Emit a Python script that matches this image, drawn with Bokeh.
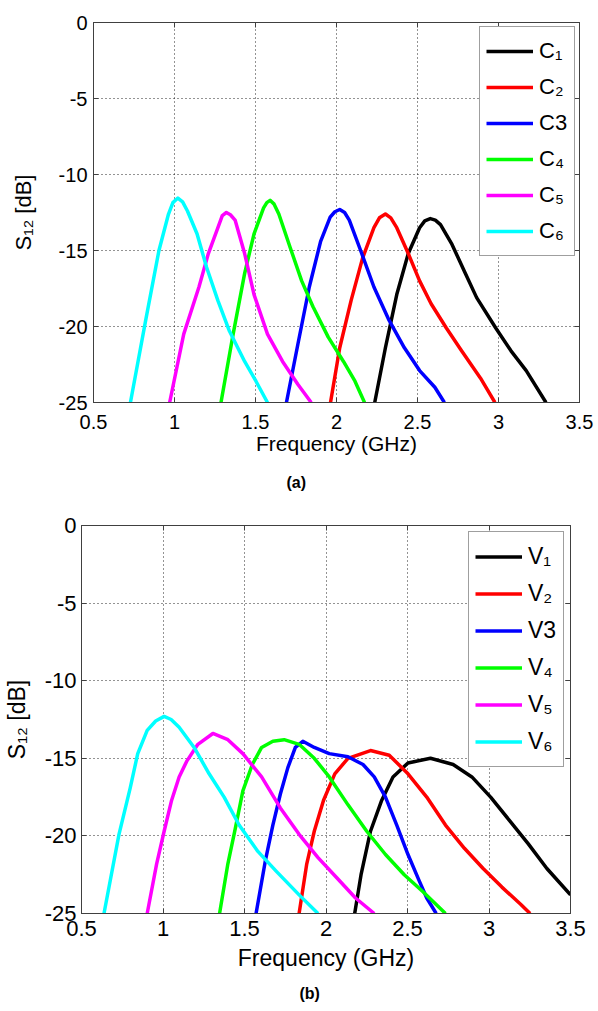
from bokeh.plotting import figure
from bokeh.models import Range1d, LinearAxis, Legend, LegendItem, Title
from bokeh.embed import file_html
from bokeh.resources import INLINE
from bokeh.core.properties import value

# ---------------- data ----------------
FREQ_TICKS = [0.5, 1.0, 1.5, 2.0, 2.5, 3.0, 3.5]
FREQ_TICK_LABELS = ["0.5", "1", "1.5", "2", "2.5", "3", "3.5"]
S12_TICKS = [-25, -20, -15, -10, -5, 0]
S12_TICK_LABELS = ["-25", "-20", "-15", "-10", "-5", "0"]
COLORS = ["#000000", "#ff0000", "#0000ff", "#00ff00", "#ff00ff", "#00ffff"]

# panel (a)
C_labels = ["C\u2081", "C\u2082", "C3", "C\u2084", "C\u2085", "C\u2086"]
C1_f = [2.236, 2.302, 2.372, 2.443, 2.513, 2.545, 2.579, 2.61, 2.642, 2.713, 2.795, 2.865, 2.983, 3.077, 3.171, 3.293]
C1_s = [-25, -21.4, -17.9, -15.2, -13.5, -13.05, -12.9, -13.0, -13.3, -14.6, -16.5, -18.1, -20.1, -21.6, -22.9, -25]
C2_f = [1.963, 2.02, 2.09, 2.161, 2.231, 2.265, 2.302, 2.335, 2.372, 2.443, 2.513, 2.584, 2.678, 2.772, 2.889, 2.978]
C2_s = [-25, -21.4, -18.3, -15.5, -13.5, -12.85, -12.6, -12.85, -13.5, -15.2, -17.0, -18.5, -20.1, -21.6, -23.4, -25]
C3_f = [1.691, 1.761, 1.832, 1.902, 1.961, 1.99, 2.02, 2.05, 2.079, 2.149, 2.231, 2.325, 2.419, 2.513, 2.607, 2.666]
C3_s = [-25, -21.2, -17.4, -14.4, -12.8, -12.45, -12.3, -12.5, -13.0, -15.0, -17.4, -19.6, -21.4, -22.9, -24.0, -25]
C4_f = [1.287, 1.362, 1.433, 1.491, 1.55, 1.57, 1.59, 1.615, 1.644, 1.714, 1.785, 1.855, 1.949, 2.043, 2.114, 2.173]
C4_s = [-25, -20.5, -16.5, -13.9, -12.2, -11.85, -11.7, -11.95, -12.6, -14.8, -17.0, -18.7, -20.7, -22.3, -23.6, -25]
C5_f = [0.97, 1.057, 1.151, 1.209, 1.268, 1.295, 1.32, 1.345, 1.374, 1.433, 1.491, 1.574, 1.667, 1.761, 1.844]
C5_s = [-25, -20.5, -17.4, -15.2, -13.5, -12.7, -12.5, -12.65, -13.0, -15.2, -17.9, -20.5, -22.3, -23.8, -25]
C6_f = [0.728, 0.822, 0.904, 0.963, 0.99, 1.021, 1.05, 1.08, 1.139, 1.198, 1.268, 1.339, 1.433, 1.503, 1.574]
C6_s = [-25, -19.6, -15.0, -12.6, -11.85, -11.55, -11.8, -12.4, -13.9, -16.1, -18.3, -20.3, -22.3, -23.6, -25]

# panel (b)
V_labels = ["V\u2081", "V\u2082", "V3", "V\u2084", "V\u2085", "V\u2086"]
V1_f = [2.176, 2.215, 2.273, 2.342, 2.411, 2.503, 2.641, 2.78, 2.895, 3.01, 3.125, 3.24, 3.355, 3.5]
V1_s = [-25, -22.5, -19.7, -17.7, -16.2, -15.3, -15.0, -15.4, -16.2, -17.5, -19.0, -20.5, -22.1, -23.8]
V2_f = [1.835, 1.882, 1.928, 1.985, 2.054, 2.135, 2.273, 2.388, 2.503, 2.618, 2.733, 2.849, 2.964, 3.079, 3.194, 3.252]
V2_s = [-25, -21.8, -19.7, -17.7, -16.0, -15.0, -14.5, -14.8, -16.0, -17.5, -19.3, -20.8, -22.1, -23.3, -24.4, -25]
V3_f = [1.571, 1.628, 1.674, 1.72, 1.766, 1.812, 1.858, 1.928, 2.02, 2.135, 2.227, 2.296, 2.365, 2.434, 2.503, 2.572, 2.618, 2.676]
V3_s = [-25, -21.6, -19.3, -17.3, -15.6, -14.3, -13.9, -14.3, -14.7, -14.9, -15.4, -16.2, -17.5, -19.3, -21.2, -22.9, -24.0, -25]
V4_f = [1.347, 1.398, 1.444, 1.49, 1.548, 1.605, 1.674, 1.743, 1.835, 1.928, 2.02, 2.135, 2.25, 2.365, 2.48, 2.595, 2.733]
V4_s = [-25, -21.8, -19.5, -17.1, -15.4, -14.3, -13.9, -13.8, -14.1, -15.0, -16.2, -18.0, -19.7, -21.2, -22.5, -23.6, -25]
V5_f = [0.903, 0.961, 1.007, 1.053, 1.099, 1.145, 1.214, 1.306, 1.398, 1.49, 1.605, 1.72, 1.835, 1.951, 2.066, 2.181, 2.296]
V5_s = [-25, -21.8, -19.7, -17.7, -16.2, -15.2, -14.1, -13.4, -13.8, -14.7, -16.2, -18.2, -19.9, -21.4, -22.7, -24.0, -25]
V6_f = [0.638, 0.73, 0.799, 0.845, 0.903, 0.955, 1.007, 1.05, 1.099, 1.191, 1.283, 1.375, 1.467, 1.582, 1.697, 1.835, 1.951]
V6_s = [-25, -19.9, -16.9, -14.7, -13.2, -12.6, -12.3, -12.5, -13.0, -14.3, -16.0, -17.5, -19.3, -21.0, -22.3, -23.8, -25]

FONT = "Liberation Sans"
EDGE = "#404040"
PAGE_W = 598


def make_panel(fs, ss, labels, caption, g):
    W, H = PAGE_W, g["H"]
    bl, bt, fw, fh = g["bl"], g["bt"], g["fw"], g["fh"]
    p = figure(width=W, height=H, x_range=Range1d(0.5, 3.5), y_range=Range1d(-25, 0),
               output_backend="svg", toolbar_location=None,
               min_border_left=bl, min_border_top=bt,
               min_border_right=W - bl - fw, min_border_bottom=H - bt - fh,
               x_axis_label="Frequency (GHz)", y_axis_label="S\u2081\u2082 [dB]")
    p.outline_line_color = EDGE
    p.outline_line_width = 1
    p.background_fill_color = "white"
    p.border_fill_color = "white"

    p.xaxis.ticker = FREQ_TICKS
    p.yaxis.ticker = S12_TICKS
    p.xaxis.major_label_overrides = dict(zip(FREQ_TICKS, FREQ_TICK_LABELS))
    p.yaxis.major_label_overrides = dict(zip(S12_TICKS, S12_TICK_LABELS))
    p.xgrid.ticker = FREQ_TICKS
    p.ygrid.ticker = S12_TICKS
    for gr in (p.xgrid, p.ygrid):
        gr.grid_line_color = "black"
        gr.grid_line_dash = "1 3"
        gr.grid_line_width = 1
        gr.grid_line_alpha = 0.85

    def style(ax):
        ax.major_tick_in = 5
        ax.major_tick_out = 0
        ax.minor_tick_line_color = None
        ax.axis_line_color = EDGE
        ax.major_tick_line_color = EDGE
        ax.major_label_text_font = FONT
        ax.major_label_text_font_size = g["tick_fs"]
        ax.major_label_text_color = "black"
        ax.axis_label_text_font = FONT
        ax.axis_label_text_font_size = g["lab_fs"]
        ax.axis_label_text_font_style = "normal"
        ax.axis_label_text_color = "black"

    for ax in p.xaxis:
        style(ax)
        ax.major_label_standoff = g["xstand"]
        ax.axis_label_standoff = g["xlabstand"]
    for ax in p.yaxis:
        style(ax)
        ax.major_label_standoff = g["ystand"]
        ax.axis_label_standoff = g["ylabstand"]
        ax.axis_label_text_font_size = g["ylab_fs"]

    ra = LinearAxis(ticker=S12_TICKS, major_label_overrides={t: "" for t in S12_TICKS})
    ta = LinearAxis(ticker=FREQ_TICKS, major_label_overrides={t: "" for t in FREQ_TICKS})
    for ax in (ra, ta):
        style(ax)
        ax.major_label_standoff = 0
        ax.major_label_text_font_size = "0px"
    p.add_layout(ra, "right")
    p.add_layout(ta, "above")

    renderers = []
    for f, s, c in zip(fs, ss, COLORS):
        r = p.line(f, s, line_color=c, line_width=3.5, line_join="round")
        renderers.append(r)

    items = [LegendItem(label=value(m), renderers=[r]) for m, r in zip(labels, renderers)]
    leg = Legend(items=items, location="top_right", margin=g["lmargin"], padding=6, spacing=0,
                 glyph_width=47, glyph_height=g["lh"], label_height=g["lh"], label_width=29,
                 label_standoff=6, label_text_font=FONT, label_text_font_size=g["leg_fs"],
                 label_text_color="black", border_line_color=EDGE, border_line_width=1,
                 background_fill_color="white", background_fill_alpha=1.0)
    p.add_layout(leg)

    cap = Title(text=caption, align="left", offset=g["cap_off"], standoff=g["cap_stand"],
                text_font=FONT, text_font_size="16px", text_font_style="bold",
                text_color="black")
    p.add_layout(cap, "below")
    return p


ga = dict(H=505, bl=93, bt=22, fw=486, fh=380, tick_fs="20px", lab_fs="21px", ylab_fs="22px",
          leg_fs="22px", xstand=12, xlabstand=0, ystand=6,
          ylabstand=20, lmargin=4, lh=36, cap_off=193, cap_stand=29)
gb = dict(H=506, bl=73, bt=20, fw=497, fh=388, tick_fs="22px", lab_fs="23px", ylab_fs="23px",
          leg_fs="23px", xstand=7, xlabstand=6, ystand=5,
          ylabstand=12, lmargin=6, lh=37, cap_off=218, cap_stand=19)

pa = make_panel([C1_f, C2_f, C3_f, C4_f, C5_f, C6_f], [C1_s, C2_s, C3_s, C4_s, C5_s, C6_s],
                C_labels, "(a)", ga)
pb = make_panel([V1_f, V2_f, V3_f, V4_f, V5_f, V6_f], [V1_s, V2_s, V3_s, V4_s, V5_s, V6_s],
                V_labels, "(b)", gb)

open("out.html", "w").write(file_html([pa, pb], INLINE))
